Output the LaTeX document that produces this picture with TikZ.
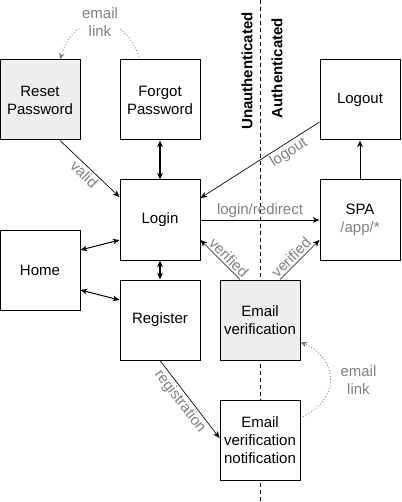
\documentclass[tikz,border=0pt]{standalone}
\usepackage{fontspec}
\setmainfont{Liberation Sans}
\usetikzlibrary{arrows.meta,calc}
\definecolor{boxgray}{HTML}{EEEEEE}
\definecolor{labelgray}{HTML}{808080}
\tikzset{
  box/.style={draw, line width=0.75pt, minimum size=60pt, inner sep=0pt, align=center},
  lbl/.style={text=labelgray, inner sep=1.5pt, align=center},
  tip/.style={-{Stealth[length=5pt, width=4.2pt, inset=1.5pt]}},
  twotip/.style={{Stealth[length=5pt, width=4.2pt, inset=1.5pt]}-{Stealth[length=5pt, width=4.2pt, inset=1.5pt]}},
  maillink/.style={labelgray, dash pattern=on 0.75pt off 1.5pt, line width=0.6pt}
}
\begin{document}
\begin{tikzpicture}[x=0.75pt, y=-0.75pt, font=\fontsize{11.25}{13.5}\selectfont]
            \useasboundingbox (0,0) rectangle (401,502);
            % Define boundary
            \coordinate (T) at (260,0);
            \coordinate (B) at (260,502);
            \draw[line width=0.75pt, dash pattern=on 3pt off 2.25pt] (T) -- (B);
            \node[rotate=90, font=\fontsize{11.25}{13.5}\selectfont\bfseries] (unauth) at (247,71) {Unauthenticated};
            \node[rotate=90, font=\fontsize{11.25}{13.5}\selectfont\bfseries] (auth) at (277,68) {Authenticated};

            % Define boxes
            \node[box, fill=boxgray] (reset) at (40,100) {Reset\\Password};
            \node[box, fill=white] (forgot) at (160,100) {Forgot\\Password};
            \node[box, fill=white] (logout) at (360,100) {Logout};
            \node[box, fill=white] (login) at (160,220) {Login};
            \node[box, fill=white] (spa) at (360,220) {SPA\\{\color{labelgray}/app/*}};
            \node[box, fill=white] (home) at (40,270) {Home};
            \node[box, fill=white] (register) at (160,320) {Register};
            \node[box, fill=boxgray] (emailver) at (260,320) {Email\\verification};
            \node[box, fill=white] (notify) at (260,440) {Email\\verification\\notification};

            % Draw arrows
            \draw[twotip, line width=0.9pt] (forgot.south) -- (login.north);
            \draw[twotip, line width=0.9pt] (login.south) -- (register.north);
            \draw[twotip, line width=0.75pt] ($(home.east)+(0,-20)$) -- ($(login.west)+(0,20)$);
            \draw[twotip, line width=0.75pt] ($(home.east)+(0,20)$) -- ($(register.west)+(0,-20)$);
            \draw[tip, line width=0.75pt] (login.east) -- (spa.west) node[midway, above, lbl] {login/redirect};
            \draw[tip, line width=0.75pt] (spa.north) -- (logout.south);
            \draw[tip, line width=0.5pt] ($(reset.south)+(20,0)$) -- ($(login.west)+(0,-23)$) node[midway, below, sloped, lbl] {valid};
            \draw[tip, line width=0.5pt] ($(logout.west)+(0,22)$) -- ($(login.east)+(0,-22)$) node[pos=0.3, below, sloped, lbl] {logout};
            \draw[tip, line width=0.5pt] ($(emailver.north)+(-20,0)$) -- ($(login.east)+(0,20)$) node[pos=0.42, above, sloped, lbl] {verified};
            \draw[tip, line width=0.5pt] ($(emailver.north)+(20,0)$) -- ($(spa.west)+(0,20)$) node[pos=0.42, above, sloped, lbl] {verified};
            \draw[tip, line width=0.5pt] (register.south) -- ($(notify.west)+(0,-2)$) node[pos=0.46, below, sloped, lbl] {registration};

            % Draw email links
            \draw[tip, maillink] ($(forgot.north)+(-20,0)$) .. controls (125,10) and (75,10) .. ($(reset.north)+(20,0)$)
              node[midway, lbl, fill=white, inner sep=0.5pt] {email\\link};
            \draw[tip, maillink] ($(notify.east)+(0,-22)$) .. controls (340,400) and (340,360) .. ($(emailver.east)+(0,22)$)
              node[midway, right, lbl, xshift=6pt] {email\\link};
        \end{tikzpicture}
\end{document}
